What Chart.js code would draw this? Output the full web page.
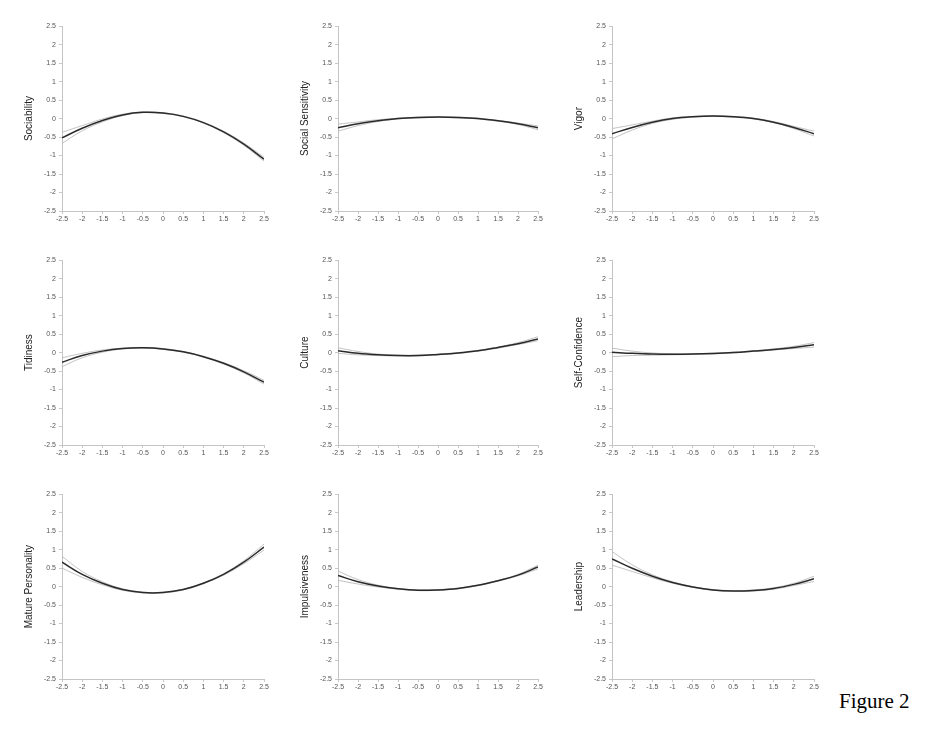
<!DOCTYPE html>
<html lang="en">
<head>
    <meta charset="UTF-8">
    <title>Figure 2</title>
    <script src="https://cdn.jsdelivr.net/npm/chart.js"></script>
    <style>
        body {
            background: #ffffff;
            margin: 0;
            padding: 0;
            width: 931px;
            height: 732px;
            position: relative;
            overflow: hidden;
        }
        canvas {
            position: absolute;
        }
        .caption {
            position: absolute;
            left: 839px;
            top: 691px;
            font-family: 'Liberation Serif', 'Times New Roman', serif;
            font-size: 21px;
            line-height: 1;
            color: #000;
        }
    </style>
</head>
<body>
    <div class="caption">Figure 2</div>
    <script>
        // shared x positions and axis ticks
        const tickValues = [-2.5, -2, -1.5, -1, -0.5, 0, 0.5, 1, 1.5, 2, 2.5];
        const tickLabels = ['-2.5', '-2', '-1.5', '-1', '-0.5', '0', '0.5', '1', '1.5', '2', '2.5'];

        // fitted curve + upper / lower band, read at each x tick
        const sociability   = [-0.52, -0.26, -0.05, 0.10, 0.17, 0.15, 0.06, -0.11, -0.36, -0.69, -1.10];
        const sociabilityHi = [-0.37, -0.19, -0.01, 0.12, 0.18, 0.16, 0.07, -0.10, -0.34, -0.66, -1.05];
        const sociabilityLo = [-0.67, -0.33, -0.09, 0.08, 0.16, 0.14, 0.05, -0.12, -0.38, -0.72, -1.15];

        const socialSens   = [-0.25, -0.14, -0.06, 0.00, 0.03, 0.04, 0.03, 0.00, -0.06, -0.14, -0.25];
        const socialSensHi = [-0.15, -0.09, -0.03, 0.01, 0.04, 0.05, 0.04, 0.01, -0.05, -0.12, -0.20];
        const socialSensLo = [-0.34, -0.19, -0.08, -0.01, 0.02, 0.03, 0.02, -0.01, -0.07, -0.16, -0.30];

        const vigor   = [-0.41, -0.24, -0.10, 0.00, 0.05, 0.07, 0.05, 0.00, -0.10, -0.24, -0.41];
        const vigorHi = [-0.27, -0.17, -0.07, 0.02, 0.06, 0.08, 0.06, 0.01, -0.08, -0.21, -0.34];
        const vigorLo = [-0.55, -0.31, -0.13, -0.02, 0.04, 0.06, 0.04, -0.01, -0.11, -0.27, -0.47];

        const tidiness   = [-0.26, -0.08, 0.04, 0.11, 0.13, 0.10, 0.02, -0.11, -0.29, -0.52, -0.80];
        const tidinessHi = [-0.14, -0.02, 0.07, 0.12, 0.14, 0.11, 0.03, -0.10, -0.27, -0.49, -0.75];
        const tidinessLo = [-0.38, -0.14, 0.01, 0.10, 0.12, 0.09, 0.01, -0.12, -0.31, -0.55, -0.85];

        const culture   = [0.05, -0.02, -0.06, -0.08, -0.08, -0.05, -0.01, 0.05, 0.14, 0.24, 0.37];
        const cultureHi = [0.13, 0.03, -0.04, -0.07, -0.07, -0.04, 0.00, 0.06, 0.15, 0.27, 0.43];
        const cultureLo = [-0.02, -0.06, -0.08, -0.09, -0.09, -0.06, -0.02, 0.04, 0.12, 0.22, 0.32];

        const selfConf   = [0.01, -0.02, -0.04, -0.045, -0.04, -0.025, 0.00, 0.04, 0.085, 0.14, 0.21];
        const selfConfHi = [0.12, 0.04, -0.01, -0.03, -0.03, -0.015, 0.01, 0.05, 0.10, 0.17, 0.27];
        const selfConfLo = [-0.11, -0.08, -0.07, -0.06, -0.05, -0.035, -0.01, 0.03, 0.07, 0.11, 0.15];

        const mature   = [0.66, 0.33, 0.09, -0.08, -0.16, -0.16, -0.08, 0.09, 0.33, 0.66, 1.07];
        const matureHi = [0.82, 0.41, 0.13, -0.06, -0.15, -0.15, -0.07, 0.10, 0.35, 0.70, 1.15];
        const matureLo = [0.50, 0.25, 0.05, -0.10, -0.17, -0.17, -0.09, 0.08, 0.31, 0.62, 0.99];

        const impulsive   = [0.30, 0.13, 0.015, -0.06, -0.10, -0.09, -0.05, 0.035, 0.16, 0.31, 0.53];
        const impulsiveHi = [0.42, 0.19, 0.04, -0.05, -0.09, -0.08, -0.04, 0.045, 0.17, 0.33, 0.58];
        const impulsiveLo = [0.17, 0.07, -0.01, -0.07, -0.11, -0.10, -0.06, 0.025, 0.15, 0.29, 0.48];

        const leadership   = [0.75, 0.495, 0.28, 0.11, -0.01, -0.09, -0.12, -0.105, -0.05, 0.06, 0.21];
        const leadershipHi = [0.95, 0.59, 0.32, 0.13, 0.00, -0.08, -0.11, -0.09, -0.03, 0.09, 0.28];
        const leadershipLo = [0.58, 0.41, 0.24, 0.09, -0.02, -0.10, -0.13, -0.12, -0.07, 0.03, 0.14];

        // plot area of each panel on the page: x, y (top-left), w, h
        const panels = [
            { label: 'Sociability',         fit: sociability, hi: sociabilityHi, lo: sociabilityLo, x: 62,  y: 25,  w: 202, h: 186 },
            { label: 'Social Sensitivity',  fit: socialSens,  hi: socialSensHi,  lo: socialSensLo,  x: 338, y: 25,  w: 200, h: 186 },
            { label: 'Vigor',               fit: vigor,       hi: vigorHi,       lo: vigorLo,       x: 612, y: 25,  w: 202, h: 186 },
            { label: 'Tidiness',            fit: tidiness,    hi: tidinessHi,    lo: tidinessLo,    x: 62,  y: 259, w: 202, h: 186 },
            { label: 'Culture',             fit: culture,     hi: cultureHi,     lo: cultureLo,     x: 338, y: 259, w: 200, h: 186 },
            { label: 'Self-Confidence',     fit: selfConf,    hi: selfConfHi,    lo: selfConfLo,    x: 612, y: 259, w: 202, h: 186 },
            { label: 'Mature Personality',  fit: mature,      hi: matureHi,      lo: matureLo,      x: 62,  y: 493, w: 202, h: 186 },
            { label: 'Impulsiveness',       fit: impulsive,   hi: impulsiveHi,   lo: impulsiveLo,   x: 338, y: 493, w: 200, h: 186 },
            { label: 'Leadership',          fit: leadership,  hi: leadershipHi,  lo: leadershipLo,  x: 612, y: 493, w: 202, h: 186 }
        ];

        const LEFT = 44, TOP = 6, RIGHT = 12, BOTTOM = 16;
        const FONT = "'Liberation Sans', Arial, sans-serif";

        function toPoints(ys) {
            return tickValues.map((x, i) => ({ x: x, y: ys[i] }));
        }

        function axis(extra) {
            return Object.assign({
                type: 'linear',
                min: -2.5,
                max: 2.5,
                afterBuildTicks: s => { s.ticks = tickValues.map(v => ({ value: v })); },
                ticks: {
                    autoSkip: false,
                    maxRotation: 0,
                    color: '#555',
                    font: { family: FONT, size: 7 },
                    callback: (v, i) => tickLabels[i]
                },
                grid: { drawOnChartArea: false, drawTicks: true, tickLength: 3, color: '#c8c8c8' },
                border: { color: '#c4c4c4', width: 1 }
            }, extra);
        }

        panels.forEach(p => {
            const canvas = document.createElement('canvas');
            canvas.width = LEFT + p.w + RIGHT;
            canvas.height = TOP + p.h + BOTTOM;
            canvas.style.left = (p.x - LEFT) + 'px';
            canvas.style.top = (p.y - TOP) + 'px';
            document.body.appendChild(canvas);

            // chart.js paints dataset 0 last, so the fitted line goes first
            const band = { borderColor: '#b4b4b4', borderWidth: 0.8 };
            new Chart(canvas, {
                type: 'line',
                data: {
                    datasets: [
                        { data: toPoints(p.fit), borderColor: '#2a2a2a', borderWidth: 1.5 },
                        Object.assign({ data: toPoints(p.hi) }, band),
                        Object.assign({ data: toPoints(p.lo) }, band)
                    ]
                },
                options: {
                    responsive: false,
                    animation: false,
                    devicePixelRatio: 1,
                    layout: { padding: { top: TOP, right: RIGHT, left: 0, bottom: 0 } },
                    elements: {
                        point: { radius: 0 },
                        line: { tension: 0.4, fill: false }
                    },
                    plugins: { legend: { display: false }, tooltip: { enabled: false } },
                    scales: {
                        x: axis({
                            afterFit: s => { s.height = BOTTOM; },
                            ticks: Object.assign({}, axis().ticks, { padding: 1 })
                        }),
                        y: axis({
                            afterFit: s => { s.width = LEFT; },
                            title: {
                                display: true,
                                text: p.label,
                                color: '#222',
                                font: { family: FONT, size: 10 },
                                padding: { top: 5, bottom: 0 }
                            }
                        })
                    }
                }
            });
        });
    </script>
</body>
</html>
